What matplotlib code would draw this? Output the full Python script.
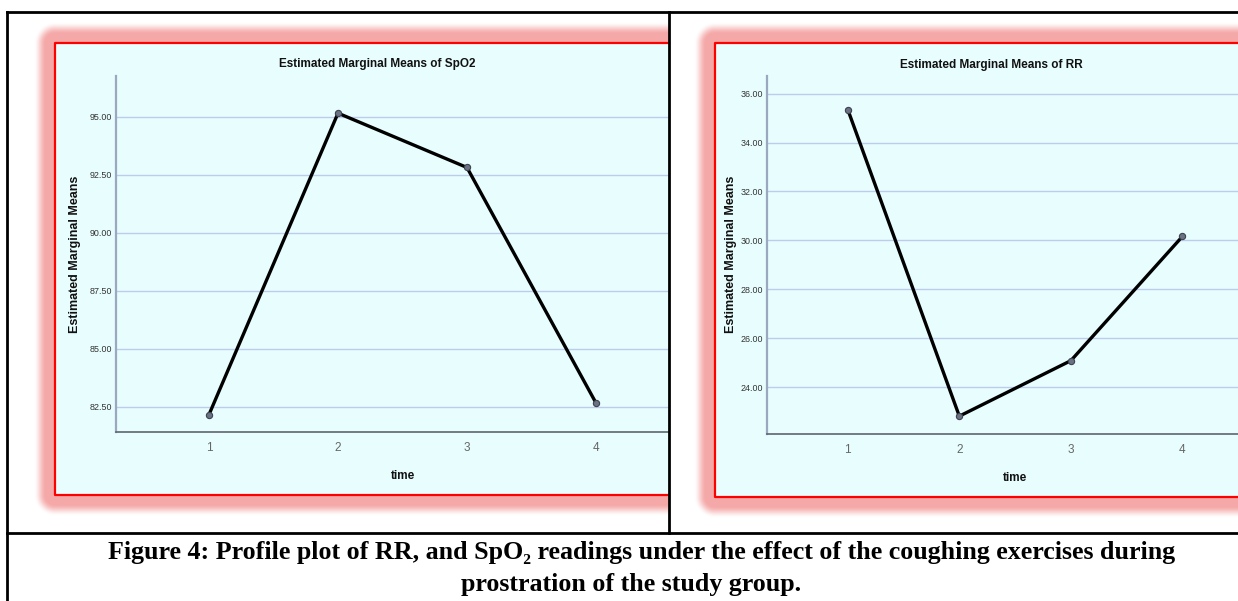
import numpy as np
import matplotlib
matplotlib.use("Agg")
import matplotlib.pyplot as plt
from matplotlib.lines import Line2D

# ---------------- data ----------------
time_points = [1, 2, 3, 4]
spo2_means = [82.17, 95.15, 92.81, 82.67]
rr_means = [35.35, 22.81, 25.08, 30.16]
spo2_ticks = [82.5, 85.0, 87.5, 90.0, 92.5, 95.0]
rr_ticks = [24.0, 26.0, 28.0, 30.0, 32.0, 34.0, 36.0]
spo2_title = "Estimated Marginal Means of SpO2"
rr_title = "Estimated Marginal Means of RR"
y_label = "Estimated Marginal Means"
x_label = "time"
caption1 = "Figure 4: Profile plot of RR, and SpO\u2082 readings under the effect of the coughing exercises during"
caption2 = "prostration of the study group."

W, H = 1238, 601
fig = plt.figure(figsize=(W / 100, H / 100), dpi=100)
fig.patch.set_facecolor("white")

def fx(x):
    return x / W

def fy(y):
    return 1 - y / H

# ---------------- background (glow + panel fill) ----------------
yy, xx = np.mgrid[0:H, 0:W] + 0.5
img = np.ones((H, W, 3))
panels = [
    # (x0, y0, x1, y1) frame, (cx0, cy0, cx1, cy1) cell
    ((55, 43, 700, 495), (8, 13, 669, 533)),
    ((715, 43, 1300, 497), (670, 13, 1238, 533)),
]
glow_col = np.array([245, 168, 168]) / 255.0
fill_col = np.array([232, 253, 253]) / 255.0
for (x0, y0, x1, y1), (cx0, cy0, cx1, cy1) in panels:
    dx = np.maximum(np.maximum(x0 - xx, xx - x1), 0)
    dy = np.maximum(np.maximum(y0 - yy, yy - y1), 0)
    d = np.hypot(dx, dy)
    t = np.clip((21.0 - d) / 12.0, 0, 1)
    a = t * t * (3 - 2 * t)
    cell = (xx >= cx0) & (xx <= cx1) & (yy >= cy0) & (yy <= cy1)
    a = a * cell
    img = img * (1 - a[..., None]) + glow_col * a[..., None]
    inside = (xx >= x0) & (xx <= x1) & (yy >= y0) & (yy <= y1) & cell
    img[inside] = fill_col

bg = fig.add_axes([0, 0, 1, 1], zorder=-10)
bg.imshow(img, extent=[0, W, H, 0], aspect="auto", interpolation="bilinear")
bg.set_xlim(0, W)
bg.set_ylim(H, 0)
bg.axis("off")

def fline(xs, ys, color="black", lw=2.0, z=20):
    fig.add_artist(Line2D([fx(x) for x in xs], [fy(y) for y in ys],
                          color=color, lw=lw, zorder=z, transform=fig.transFigure))

# red frames
red = "#ff0000"
fline([669, 55, 55, 669], [43, 43, 495, 495], color=red, lw=1.6, z=15)
fline([1238, 715, 715, 1238], [43, 43, 497, 497], color=red, lw=1.6, z=15)

# table lines
fline([7, 1238], [12, 12])
fline([7, 7], [12, 601])
fline([669, 669], [12, 533])
fline([7, 1238], [533, 533])

# ---------------- charts ----------------
narrow = ["Liberation Sans Narrow", "Liberation Sans", "DejaVu Sans"]
sans = ["Liberation Sans", "DejaVu Sans"]
grid_col = "#bccbee"

def make_chart(px0, py0, px1, py1, xlim, ylim, xs, ys, yticks, title,
               title_xy, ylab_x, xlab_xy):
    ax = fig.add_axes([fx(px0), fy(py1), (px1 - px0) / W, (py1 - py0) / H], zorder=5)
    ax.patch.set_alpha(0)
    ax.set_xlim(*xlim)
    ax.set_ylim(*ylim)
    for s in ["top", "right"]:
        ax.spines[s].set_visible(False)
    ax.spines["left"].set_color("#9aa8c0")
    ax.spines["left"].set_linewidth(1.6)
    ax.spines["bottom"].set_color("#5f6570")
    ax.spines["bottom"].set_linewidth(1.2)
    ax.set_yticks(yticks)
    ax.set_yticklabels([f"{t:.2f}" for t in yticks], fontsize=6.4,
                       family=narrow, color="#333333")
    ax.set_xticks(xs)
    ax.set_xticklabels([str(x) for x in xs], fontsize=8.5, family=sans, color="#666666")
    ax.tick_params(axis="both", length=0)
    ax.tick_params(axis="y", pad=3)
    ax.tick_params(axis="x", pad=7)
    for t in yticks:
        ax.axhline(t, color=grid_col, lw=1.0, zorder=1)
    ax.plot(xs, ys, color="black", lw=2.4, zorder=3, solid_joinstyle="miter")
    ax.plot(xs, ys, ls="none", marker="o", ms=4.5, mfc="#6a7283",
            mec="#3d4350", mew=0.8, zorder=4)
    fig.text(fx(title_xy[0]), fy(title_xy[1]), title, ha="center", va="center",
             fontsize=8.5, family=narrow, fontweight="bold", color="#111111")
    fig.text(fx(ylab_x[0]), fy(ylab_x[1]), y_label, ha="center", va="center",
             rotation=90, fontsize=9, family=sans, fontweight="bold", color="#111111")
    fig.text(fx(xlab_xy[0]), fy(xlab_xy[1]), x_label, ha="center", va="center",
             fontsize=8.5, family=narrow, fontweight="bold", color="#111111")
    return ax

make_chart(116, 76, 669, 432, (0.279, 4.566), (81.42, 96.75),
           time_points, spo2_means, spo2_ticks, spo2_title,
           (377, 64), (75, 254), (403, 476))
make_chart(767, 76, 1238, 434, (0.276, 4.498), (22.08, 36.72),
           time_points, rr_means, rr_ticks, rr_title,
           (991, 65), (731, 254), (1015, 478))

# ---------------- caption ----------------
serif = ["Liberation Serif", "DejaVu Serif"]
fig.text(fx(642), fy(552), caption1, ha="center", va="center", fontsize=18.7,
         family=serif, fontweight="bold")
fig.text(fx(631), fy(584), caption2, ha="center", va="center", fontsize=18.7,
         family=serif, fontweight="bold")

fig.savefig("out.png", dpi=100, facecolor="white")
